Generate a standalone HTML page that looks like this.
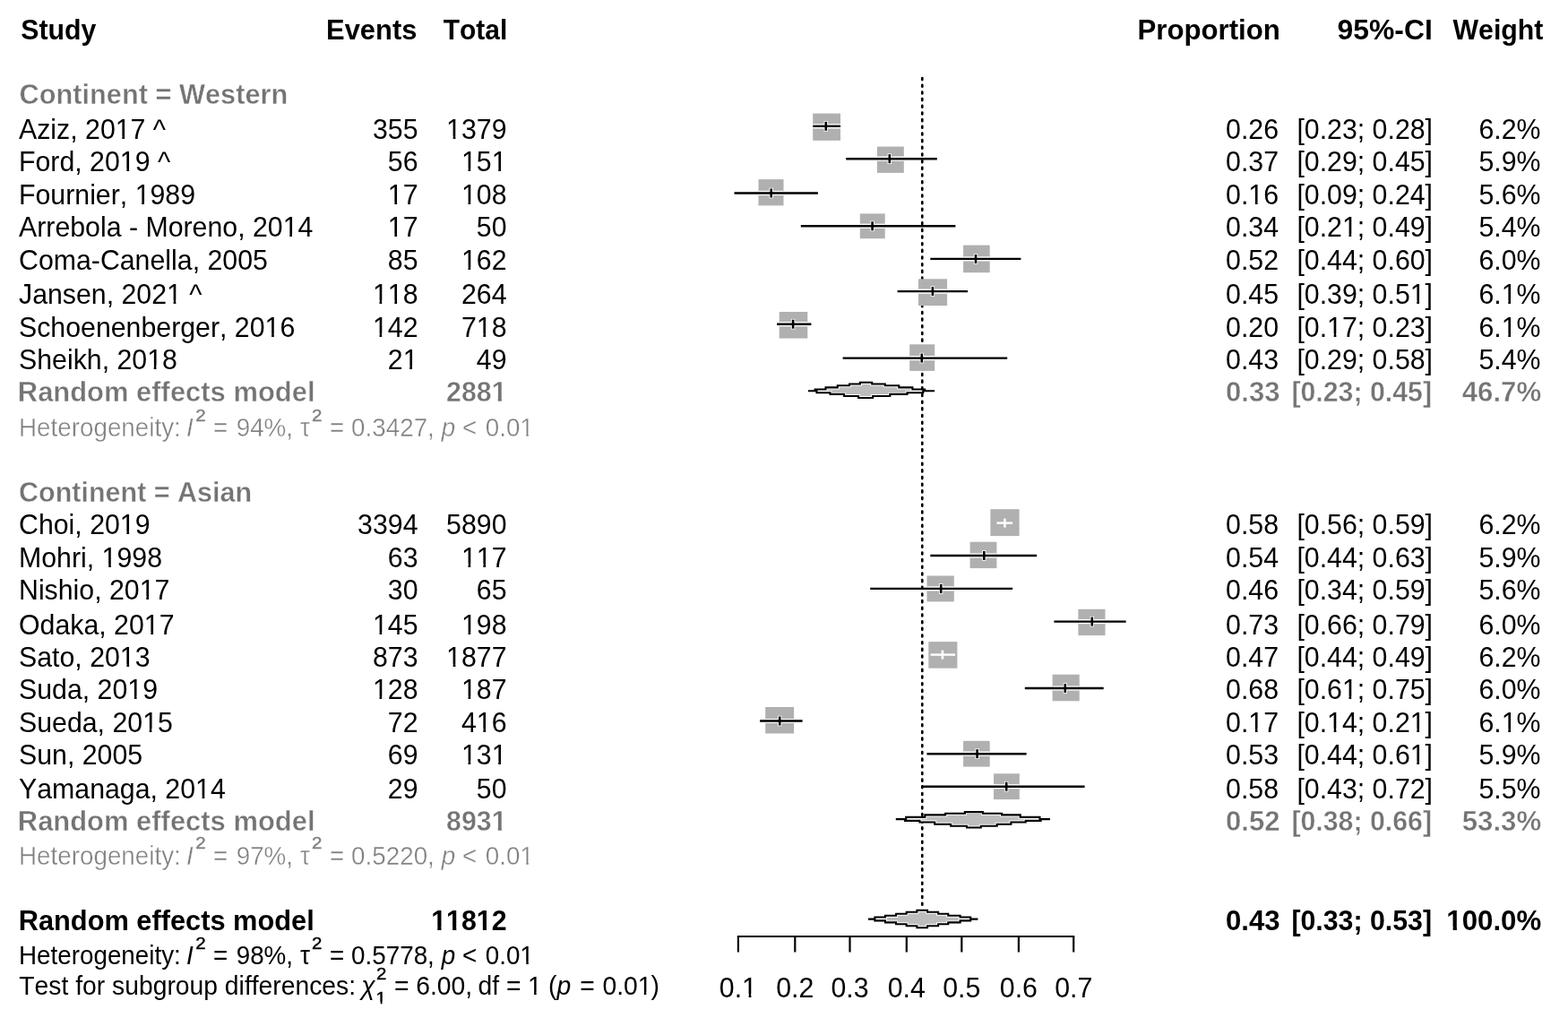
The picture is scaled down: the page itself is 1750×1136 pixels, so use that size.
<!DOCTYPE html>
<html><head><meta charset="utf-8"><title>Forest plot</title>
<style>
html,body{margin:0;padding:0;background:#fff;}
body{width:1750px;height:1136px;overflow:hidden;}
svg{display:block;font-family:"Liberation Sans",Arial,sans-serif;font-size:30.3px;font-kerning:none;font-variant-ligatures:none;font-feature-settings:"kern" 0,"liga" 0;}
</style></head><body>
<svg width="1750" height="1136" viewBox="0 0 1750 1136">
<rect width="1750" height="1136" fill="#fff"/>
<line x1="1029.3" y1="87.1" x2="1029.3" y2="1009.9" stroke="#000" stroke-width="2.6" stroke-linecap="round" stroke-dasharray="2.0 5.672"/>
<text transform="translate(23.2 44.3) scale(1.0 1.04)" font-weight="bold">Study</text>
<text transform="translate(465.4 44.3) scale(1.02 1.04)" text-anchor="end" font-weight="bold">Events</text>
<text transform="translate(566.3 44.3) scale(0.99 1.04)" text-anchor="end" font-weight="bold">Total</text>
<text transform="translate(1428.8 44.3) scale(1.029 1.04)" text-anchor="end" font-weight="bold">Proportion</text>
<text transform="translate(1598.8 44.3) scale(1.052 1.04)" text-anchor="end" font-weight="bold">95%-CI</text>
<text transform="translate(1722.4 44.3) scale(1.0 1.04)" text-anchor="end" font-weight="bold">Weight</text>
<text transform="translate(21.5 116.3) scale(1.015 1.04)" font-weight="bold" fill="#747474" stroke="#fff" stroke-width="0.4">Continent = Western</text>
<text transform="translate(21.0 155.2) scale(1.0 1.04)">Aziz, 2017 ^</text>
<text transform="translate(466.5 155.2) scale(1.0 1.04)" text-anchor="end">355</text>
<text transform="translate(565.5 155.2) scale(1.0 1.04)" text-anchor="end">1379</text>
<text transform="translate(1427.0 155.2) scale(1.0 1.04)" text-anchor="end">0.26</text>
<text transform="translate(1599.0 155.2) scale(1.0 1.04)" text-anchor="end">[0.23; 0.28]</text>
<text transform="translate(1719.5 155.2) scale(1.0 1.04)" text-anchor="end">6.2%</text>
<rect x="907.2" y="126.6" width="30.8" height="30.2" fill="#b0b0b0"/>
<line x1="907.4" y1="140.8" x2="938.0" y2="140.8" stroke="#fff" stroke-width="5.2"/>
<line x1="921.8" y1="135.0" x2="921.8" y2="146.6" stroke="#fff" stroke-width="4.4"/>
<line x1="907.4" y1="140.8" x2="938.0" y2="140.8" stroke="#000" stroke-width="2.4"/>
<line x1="921.8" y1="135.8" x2="921.8" y2="145.8" stroke="#000" stroke-width="2.6"/>
<text transform="translate(21.0 191.3) scale(1.0 1.04)">Ford, 2019 ^</text>
<text transform="translate(466.5 191.3) scale(1.0 1.04)" text-anchor="end">56</text>
<text transform="translate(565.5 191.3) scale(1.0 1.04)" text-anchor="end">151</text>
<text transform="translate(1427.0 191.3) scale(1.0 1.04)" text-anchor="end">0.37</text>
<text transform="translate(1599.0 191.3) scale(1.0 1.04)" text-anchor="end">[0.29; 0.45]</text>
<text transform="translate(1719.5 191.3) scale(1.0 1.04)" text-anchor="end">5.9%</text>
<rect x="978.9" y="163.6" width="29.9" height="29.3" fill="#b0b0b0"/>
<line x1="978.9" y1="177.2" x2="1008.8" y2="177.2" stroke="#fff" stroke-width="5.2"/>
<line x1="992.8" y1="171.4" x2="992.8" y2="183.0" stroke="#fff" stroke-width="4.4"/>
<line x1="944.2" y1="177.2" x2="1045.8" y2="177.2" stroke="#000" stroke-width="2.4"/>
<line x1="992.8" y1="172.2" x2="992.8" y2="182.2" stroke="#000" stroke-width="2.6"/>
<text transform="translate(21.0 227.8) scale(1.0 1.04)">Fournier, 1989</text>
<text transform="translate(466.5 227.8) scale(1.0 1.04)" text-anchor="end">17</text>
<text transform="translate(565.5 227.8) scale(1.0 1.04)" text-anchor="end">108</text>
<text transform="translate(1427.0 227.8) scale(1.0 1.04)" text-anchor="end">0.16</text>
<text transform="translate(1599.0 227.8) scale(1.0 1.04)" text-anchor="end">[0.09; 0.24]</text>
<text transform="translate(1719.5 227.8) scale(1.0 1.04)" text-anchor="end">5.6%</text>
<rect x="846.5" y="200.1" width="28.0" height="29.3" fill="#b0b0b0"/>
<line x1="846.5" y1="215.5" x2="874.5" y2="215.5" stroke="#fff" stroke-width="5.2"/>
<line x1="860.7" y1="209.7" x2="860.7" y2="221.3" stroke="#fff" stroke-width="4.4"/>
<line x1="819.5" y1="215.5" x2="912.9" y2="215.5" stroke="#000" stroke-width="2.4"/>
<line x1="860.7" y1="210.5" x2="860.7" y2="220.5" stroke="#000" stroke-width="2.6"/>
<text transform="translate(21.0 264.2) scale(1.0 1.04)">Arrebola - Moreno, 2014</text>
<text transform="translate(466.5 264.2) scale(1.0 1.04)" text-anchor="end">17</text>
<text transform="translate(565.5 264.2) scale(1.0 1.04)" text-anchor="end">50</text>
<text transform="translate(1427.0 264.2) scale(1.0 1.04)" text-anchor="end">0.34</text>
<text transform="translate(1599.0 264.2) scale(1.0 1.04)" text-anchor="end">[0.21; 0.49]</text>
<text transform="translate(1719.5 264.2) scale(1.0 1.04)" text-anchor="end">5.4%</text>
<rect x="959.8" y="238.4" width="27.9" height="27.8" fill="#b0b0b0"/>
<line x1="959.8" y1="252.3" x2="987.7" y2="252.3" stroke="#fff" stroke-width="5.2"/>
<line x1="973.6" y1="246.5" x2="973.6" y2="258.1" stroke="#fff" stroke-width="4.4"/>
<line x1="893.8" y1="252.3" x2="1066.4" y2="252.3" stroke="#000" stroke-width="2.4"/>
<line x1="973.6" y1="247.3" x2="973.6" y2="257.3" stroke="#000" stroke-width="2.6"/>
<text transform="translate(21.0 301.3) scale(1.0 1.04)">Coma-Canella, 2005</text>
<text transform="translate(466.5 301.3) scale(1.0 1.04)" text-anchor="end">85</text>
<text transform="translate(565.5 301.3) scale(1.0 1.04)" text-anchor="end">162</text>
<text transform="translate(1427.0 301.3) scale(1.0 1.04)" text-anchor="end">0.52</text>
<text transform="translate(1599.0 301.3) scale(1.0 1.04)" text-anchor="end">[0.44; 0.60]</text>
<text transform="translate(1719.5 301.3) scale(1.0 1.04)" text-anchor="end">6.0%</text>
<rect x="1075.1" y="273.6" width="29.6" height="30.6" fill="#b0b0b0"/>
<line x1="1075.1" y1="288.9" x2="1104.7" y2="288.9" stroke="#fff" stroke-width="5.2"/>
<line x1="1089.0" y1="283.1" x2="1089.0" y2="294.7" stroke="#fff" stroke-width="4.4"/>
<line x1="1038.3" y1="288.9" x2="1139.4" y2="288.9" stroke="#000" stroke-width="2.4"/>
<line x1="1089.0" y1="283.9" x2="1089.0" y2="293.9" stroke="#000" stroke-width="2.6"/>
<text transform="translate(21.0 338.7) scale(1.0 1.04)">Jansen, 2021 ^</text>
<text transform="translate(466.5 338.7) scale(1.0 1.04)" text-anchor="end">118</text>
<text transform="translate(565.5 338.7) scale(1.0 1.04)" text-anchor="end">264</text>
<text transform="translate(1427.0 338.7) scale(1.0 1.04)" text-anchor="end">0.45</text>
<text transform="translate(1599.0 338.7) scale(1.0 1.04)" text-anchor="end">[0.39; 0.51]</text>
<text transform="translate(1719.5 338.7) scale(1.0 1.04)" text-anchor="end">6.1%</text>
<rect x="1025.0" y="311.3" width="32.1" height="29.8" fill="#b0b0b0"/>
<line x1="1025.0" y1="325.1" x2="1057.1" y2="325.1" stroke="#fff" stroke-width="5.2"/>
<line x1="1040.9" y1="319.3" x2="1040.9" y2="330.9" stroke="#fff" stroke-width="4.4"/>
<line x1="1001.6" y1="325.1" x2="1080.0" y2="325.1" stroke="#000" stroke-width="2.4"/>
<line x1="1040.9" y1="320.1" x2="1040.9" y2="330.1" stroke="#000" stroke-width="2.6"/>
<text transform="translate(21.0 375.6) scale(1.0 1.04)">Schoenenberger, 2016</text>
<text transform="translate(466.5 375.6) scale(1.0 1.04)" text-anchor="end">142</text>
<text transform="translate(565.5 375.6) scale(1.0 1.04)" text-anchor="end">718</text>
<text transform="translate(1427.0 375.6) scale(1.0 1.04)" text-anchor="end">0.20</text>
<text transform="translate(1599.0 375.6) scale(1.0 1.04)" text-anchor="end">[0.17; 0.23]</text>
<text transform="translate(1719.5 375.6) scale(1.0 1.04)" text-anchor="end">6.1%</text>
<rect x="869.7" y="348.0" width="31.6" height="29.6" fill="#b0b0b0"/>
<line x1="869.7" y1="361.7" x2="901.3" y2="361.7" stroke="#fff" stroke-width="5.2"/>
<line x1="885.1" y1="355.9" x2="885.1" y2="367.5" stroke="#fff" stroke-width="4.4"/>
<line x1="867.1" y1="361.7" x2="905.4" y2="361.7" stroke="#000" stroke-width="2.4"/>
<line x1="885.1" y1="356.7" x2="885.1" y2="366.7" stroke="#000" stroke-width="2.6"/>
<text transform="translate(21.0 411.7) scale(1.0 1.04)">Sheikh, 2018</text>
<text transform="translate(466.5 411.7) scale(1.0 1.04)" text-anchor="end">21</text>
<text transform="translate(565.5 411.7) scale(1.0 1.04)" text-anchor="end">49</text>
<text transform="translate(1427.0 411.7) scale(1.0 1.04)" text-anchor="end">0.43</text>
<text transform="translate(1599.0 411.7) scale(1.0 1.04)" text-anchor="end">[0.29; 0.58]</text>
<text transform="translate(1719.5 411.7) scale(1.0 1.04)" text-anchor="end">5.4%</text>
<rect x="1015.2" y="384.3" width="28.0" height="29.6" fill="#b0b0b0"/>
<line x1="1015.2" y1="399.6" x2="1043.2" y2="399.6" stroke="#fff" stroke-width="5.2"/>
<line x1="1028.8" y1="393.8" x2="1028.8" y2="405.4" stroke="#fff" stroke-width="4.4"/>
<line x1="940.6" y1="399.6" x2="1124.2" y2="399.6" stroke="#000" stroke-width="2.4"/>
<line x1="1028.8" y1="394.6" x2="1028.8" y2="404.6" stroke="#000" stroke-width="2.6"/>
<text transform="translate(19.8 447.8) scale(1.021 1.04)" font-weight="bold" fill="#747474" stroke="#fff" stroke-width="0.4">Random effects model</text>
<text transform="translate(565.5 447.8) scale(1.0 1.04)" text-anchor="end" font-weight="bold" fill="#747474" stroke="#fff" stroke-width="0.4">2881</text>
<text transform="translate(1428.5 447.8) scale(1.027 1.04)" text-anchor="end" font-weight="bold" fill="#747474" stroke="#fff" stroke-width="0.4">0.33</text>
<text transform="translate(1598.0 447.8) scale(1.0 1.04)" text-anchor="end" font-weight="bold" fill="#747474" stroke="#fff" stroke-width="0.4">[0.23; 0.45]</text>
<text transform="translate(1720.2 447.8) scale(1.03 1.04)" text-anchor="end" font-weight="bold" fill="#747474" stroke="#fff" stroke-width="0.4">46.7%</text>
<clipPath id="dc1"><path d="M901.9,436.3H909.6V434.5H921.5V432.4H934.8V430.3H948.0V428.5H959.9V426.7H973.2V428.5H987.8V430.3H1003.3V432.4H1018.4V434.5H1032.1V436.3H1043.1V436.3H1030.3V438.3H1012.5V439.9H993.3V442.0H974.1V444.0H958.1V442.0H942.1V439.9H926.5V438.3H911.5V436.3H901.9Z"/></clipPath>
<path d="M901.9,436.3H909.6V434.5H921.5V432.4H934.8V430.3H948.0V428.5H959.9V426.7H973.2V428.5H987.8V430.3H1003.3V432.4H1018.4V434.5H1032.1V436.3H1043.1V436.3H1030.3V438.3H1012.5V439.9H993.3V442.0H974.1V444.0H958.1V442.0H942.1V439.9H926.5V438.3H911.5V436.3H901.9Z" fill="#bdbdbd" stroke="#fff" stroke-width="4.0" clip-path="url(#dc1)"/>
<path d="M901.9,436.3H909.6V434.5H921.5V432.4H934.8V430.3H948.0V428.5H959.9V426.7H973.2V428.5H987.8V430.3H1003.3V432.4H1018.4V434.5H1032.1V436.3H1043.1V436.3H1030.3V438.3H1012.5V439.9H993.3V442.0H974.1V444.0H958.1V442.0H942.1V439.9H926.5V438.3H911.5V436.3H901.9Z" fill="none" stroke="#000" stroke-width="2.1" stroke-linejoin="miter"/>
<text transform="translate(21.0 486.9) scale(1.0 1.04)" fill="#808080" font-size="27.8" stroke="#fff" stroke-width="0.35">Heterogeneity:</text>
<text transform="translate(208.1 486.9) scale(1.0 1.04)" font-style="italic" fill="#808080" font-size="27.8" stroke="#fff" stroke-width="0.35">I</text>
<text transform="translate(218.3 469.6) scale(1.0 0.88)" fill="#808080" font-size="20.5" stroke="#808080" stroke-width="0.45">2</text>
<text transform="translate(238.1 486.9) scale(1.0 1.04)" fill="#808080" font-size="27.8" stroke="#fff" stroke-width="0.35">=</text>
<text transform="translate(263.7 486.9) scale(1.0 1.04)" fill="#808080" font-size="27.8" stroke="#fff" stroke-width="0.35">94%,</text>
<text transform="translate(335.1 486.9) scale(1.0 1.04)" fill="#808080" font-size="27.8" stroke="#fff" stroke-width="0.35">τ</text>
<text transform="translate(348.0 469.6) scale(1.0 0.88)" fill="#808080" font-size="20.5" stroke="#808080" stroke-width="0.45">2</text>
<text transform="translate(368.1 486.9) scale(1.0 1.04)" fill="#808080" font-size="27.8" stroke="#fff" stroke-width="0.35">=</text>
<text transform="translate(392.1 486.9) scale(1.0 1.04)" fill="#808080" font-size="27.8" stroke="#fff" stroke-width="0.35">0.3427,</text>
<text transform="translate(492.8 486.9) scale(1.0 1.04)" font-style="italic" fill="#808080" font-size="27.8" stroke="#fff" stroke-width="0.35">p</text>
<text transform="translate(515.9 486.9) scale(1.0 1.04)" fill="#808080" font-size="27.8" stroke="#fff" stroke-width="0.35">&lt;</text>
<text transform="translate(541.7 486.9) scale(1.0 1.04)" fill="#808080" font-size="27.8" stroke="#fff" stroke-width="0.35">0.01</text>
<text transform="translate(21.0 559.7) scale(1.007 1.04)" font-weight="bold" fill="#747474" stroke="#fff" stroke-width="0.4">Continent = Asian</text>
<text transform="translate(21.0 596.1) scale(1.0 1.04)">Choi, 2019</text>
<text transform="translate(466.5 596.1) scale(1.0 1.04)" text-anchor="end">3394</text>
<text transform="translate(565.5 596.1) scale(1.0 1.04)" text-anchor="end">5890</text>
<text transform="translate(1427.0 596.1) scale(1.0 1.04)" text-anchor="end">0.58</text>
<text transform="translate(1599.0 596.1) scale(1.0 1.04)" text-anchor="end">[0.56; 0.59]</text>
<text transform="translate(1719.5 596.1) scale(1.0 1.04)" text-anchor="end">6.2%</text>
<rect x="1105.4" y="568.2" width="32.2" height="29.9" fill="#b0b0b0"/>
<line x1="1112.4" y1="583.6" x2="1130.1" y2="583.6" stroke="#fff" stroke-width="2.4"/>
<line x1="1121.4" y1="578.6" x2="1121.4" y2="588.6" stroke="#fff" stroke-width="2.6"/>
<text transform="translate(21.0 632.5) scale(1.0 1.04)">Mohri, 1998</text>
<text transform="translate(466.5 632.5) scale(1.0 1.04)" text-anchor="end">63</text>
<text transform="translate(565.5 632.5) scale(1.0 1.04)" text-anchor="end">117</text>
<text transform="translate(1427.0 632.5) scale(1.0 1.04)" text-anchor="end">0.54</text>
<text transform="translate(1599.0 632.5) scale(1.0 1.04)" text-anchor="end">[0.44; 0.63]</text>
<text transform="translate(1719.5 632.5) scale(1.0 1.04)" text-anchor="end">5.9%</text>
<rect x="1082.6" y="604.7" width="29.8" height="29.4" fill="#b0b0b0"/>
<line x1="1082.6" y1="620.0" x2="1112.4" y2="620.0" stroke="#fff" stroke-width="5.2"/>
<line x1="1098.3" y1="614.2" x2="1098.3" y2="625.8" stroke="#fff" stroke-width="4.4"/>
<line x1="1038.3" y1="620.0" x2="1157.1" y2="620.0" stroke="#000" stroke-width="2.4"/>
<line x1="1098.3" y1="615.0" x2="1098.3" y2="625.0" stroke="#000" stroke-width="2.6"/>
<text transform="translate(21.0 668.6) scale(1.0 1.04)">Nishio, 2017</text>
<text transform="translate(466.5 668.6) scale(1.0 1.04)" text-anchor="end">30</text>
<text transform="translate(565.5 668.6) scale(1.0 1.04)" text-anchor="end">65</text>
<text transform="translate(1427.0 668.6) scale(1.0 1.04)" text-anchor="end">0.46</text>
<text transform="translate(1599.0 668.6) scale(1.0 1.04)" text-anchor="end">[0.34; 0.59]</text>
<text transform="translate(1719.5 668.6) scale(1.0 1.04)" text-anchor="end">5.6%</text>
<rect x="1034.5" y="642.5" width="30.3" height="28.9" fill="#b0b0b0"/>
<line x1="1034.5" y1="656.9" x2="1064.8" y2="656.9" stroke="#fff" stroke-width="5.2"/>
<line x1="1050.2" y1="651.1" x2="1050.2" y2="662.7" stroke="#fff" stroke-width="4.4"/>
<line x1="971.2" y1="656.9" x2="1130.1" y2="656.9" stroke="#000" stroke-width="2.4"/>
<line x1="1050.2" y1="651.9" x2="1050.2" y2="661.9" stroke="#000" stroke-width="2.6"/>
<text transform="translate(21.0 707.9) scale(1.0 1.04)">Odaka, 2017</text>
<text transform="translate(466.5 707.9) scale(1.0 1.04)" text-anchor="end">145</text>
<text transform="translate(565.5 707.9) scale(1.0 1.04)" text-anchor="end">198</text>
<text transform="translate(1427.0 707.9) scale(1.0 1.04)" text-anchor="end">0.73</text>
<text transform="translate(1599.0 707.9) scale(1.0 1.04)" text-anchor="end">[0.66; 0.79]</text>
<text transform="translate(1719.5 707.9) scale(1.0 1.04)" text-anchor="end">6.0%</text>
<rect x="1203.4" y="679.8" width="30.1" height="29.3" fill="#b0b0b0"/>
<line x1="1203.4" y1="693.6" x2="1233.5" y2="693.6" stroke="#fff" stroke-width="5.2"/>
<line x1="1218.8" y1="687.8" x2="1218.8" y2="699.4" stroke="#fff" stroke-width="4.4"/>
<line x1="1176.4" y1="693.6" x2="1256.6" y2="693.6" stroke="#000" stroke-width="2.4"/>
<line x1="1218.8" y1="688.6" x2="1218.8" y2="698.6" stroke="#000" stroke-width="2.6"/>
<text transform="translate(21.0 744.0) scale(1.0 1.04)">Sato, 2013</text>
<text transform="translate(466.5 744.0) scale(1.0 1.04)" text-anchor="end">873</text>
<text transform="translate(565.5 744.0) scale(1.0 1.04)" text-anchor="end">1877</text>
<text transform="translate(1427.0 744.0) scale(1.0 1.04)" text-anchor="end">0.47</text>
<text transform="translate(1599.0 744.0) scale(1.0 1.04)" text-anchor="end">[0.44; 0.49]</text>
<text transform="translate(1719.5 744.0) scale(1.0 1.04)" text-anchor="end">6.2%</text>
<rect x="1036.3" y="716.1" width="32.1" height="29.6" fill="#b0b0b0"/>
<line x1="1038.6" y1="730.6" x2="1066.1" y2="730.6" stroke="#fff" stroke-width="2.4"/>
<line x1="1051.9" y1="725.6" x2="1051.9" y2="735.6" stroke="#fff" stroke-width="2.6"/>
<text transform="translate(21.0 780.1) scale(1.0 1.04)">Suda, 2019</text>
<text transform="translate(466.5 780.1) scale(1.0 1.04)" text-anchor="end">128</text>
<text transform="translate(565.5 780.1) scale(1.0 1.04)" text-anchor="end">187</text>
<text transform="translate(1427.0 780.1) scale(1.0 1.04)" text-anchor="end">0.68</text>
<text transform="translate(1599.0 780.1) scale(1.0 1.04)" text-anchor="end">[0.61; 0.75]</text>
<text transform="translate(1719.5 780.1) scale(1.0 1.04)" text-anchor="end">6.0%</text>
<rect x="1174.6" y="752.7" width="30.1" height="29.6" fill="#b0b0b0"/>
<line x1="1174.6" y1="768.0" x2="1204.7" y2="768.0" stroke="#fff" stroke-width="5.2"/>
<line x1="1188.8" y1="762.2" x2="1188.8" y2="773.8" stroke="#fff" stroke-width="4.4"/>
<line x1="1143.8" y1="768.0" x2="1231.7" y2="768.0" stroke="#000" stroke-width="2.4"/>
<line x1="1188.8" y1="763.0" x2="1188.8" y2="773.0" stroke="#000" stroke-width="2.6"/>
<text transform="translate(21.0 816.6) scale(1.0 1.04)">Sueda, 2015</text>
<text transform="translate(466.5 816.6) scale(1.0 1.04)" text-anchor="end">72</text>
<text transform="translate(565.5 816.6) scale(1.0 1.04)" text-anchor="end">416</text>
<text transform="translate(1427.0 816.6) scale(1.0 1.04)" text-anchor="end">0.17</text>
<text transform="translate(1599.0 816.6) scale(1.0 1.04)" text-anchor="end">[0.14; 0.21]</text>
<text transform="translate(1719.5 816.6) scale(1.0 1.04)" text-anchor="end">6.1%</text>
<rect x="854.2" y="789.0" width="31.9" height="29.5" fill="#b0b0b0"/>
<line x1="854.2" y1="804.5" x2="886.1" y2="804.5" stroke="#fff" stroke-width="5.2"/>
<line x1="870.2" y1="798.7" x2="870.2" y2="810.3" stroke="#fff" stroke-width="4.4"/>
<line x1="848.1" y1="804.5" x2="895.6" y2="804.5" stroke="#000" stroke-width="2.4"/>
<line x1="870.2" y1="799.5" x2="870.2" y2="809.5" stroke="#000" stroke-width="2.6"/>
<text transform="translate(21.0 852.7) scale(1.0 1.04)">Sun, 2005</text>
<text transform="translate(466.5 852.7) scale(1.0 1.04)" text-anchor="end">69</text>
<text transform="translate(565.5 852.7) scale(1.0 1.04)" text-anchor="end">131</text>
<text transform="translate(1427.0 852.7) scale(1.0 1.04)" text-anchor="end">0.53</text>
<text transform="translate(1599.0 852.7) scale(1.0 1.04)" text-anchor="end">[0.44; 0.61]</text>
<text transform="translate(1719.5 852.7) scale(1.0 1.04)" text-anchor="end">5.9%</text>
<rect x="1075.1" y="826.8" width="29.6" height="28.8" fill="#b0b0b0"/>
<line x1="1075.1" y1="841.2" x2="1104.7" y2="841.2" stroke="#fff" stroke-width="5.2"/>
<line x1="1090.6" y1="835.4" x2="1090.6" y2="847.0" stroke="#fff" stroke-width="4.4"/>
<line x1="1034.5" y1="841.2" x2="1145.6" y2="841.2" stroke="#000" stroke-width="2.4"/>
<line x1="1090.6" y1="836.2" x2="1090.6" y2="846.2" stroke="#000" stroke-width="2.6"/>
<text transform="translate(21.0 891.4) scale(1.0 1.04)">Yamanaga, 2014</text>
<text transform="translate(466.5 891.4) scale(1.0 1.04)" text-anchor="end">29</text>
<text transform="translate(565.5 891.4) scale(1.0 1.04)" text-anchor="end">50</text>
<text transform="translate(1427.0 891.4) scale(1.0 1.04)" text-anchor="end">0.58</text>
<text transform="translate(1599.0 891.4) scale(1.0 1.04)" text-anchor="end">[0.43; 0.72]</text>
<text transform="translate(1719.5 891.4) scale(1.0 1.04)" text-anchor="end">5.5%</text>
<rect x="1109.0" y="863.3" width="28.8" height="28.8" fill="#b0b0b0"/>
<line x1="1109.0" y1="877.7" x2="1137.8" y2="877.7" stroke="#fff" stroke-width="5.2"/>
<line x1="1123.2" y1="871.9" x2="1123.2" y2="883.5" stroke="#fff" stroke-width="4.4"/>
<line x1="1029.3" y1="877.7" x2="1210.6" y2="877.7" stroke="#000" stroke-width="2.4"/>
<line x1="1123.2" y1="872.7" x2="1123.2" y2="882.7" stroke="#000" stroke-width="2.6"/>
<text transform="translate(19.8 926.6) scale(1.021 1.04)" font-weight="bold" fill="#747474" stroke="#fff" stroke-width="0.4">Random effects model</text>
<text transform="translate(565.5 926.6) scale(1.0 1.04)" text-anchor="end" font-weight="bold" fill="#747474" stroke="#fff" stroke-width="0.4">8931</text>
<text transform="translate(1428.5 926.6) scale(1.027 1.04)" text-anchor="end" font-weight="bold" fill="#747474" stroke="#fff" stroke-width="0.4">0.52</text>
<text transform="translate(1598.0 926.6) scale(1.0 1.04)" text-anchor="end" font-weight="bold" fill="#747474" stroke="#fff" stroke-width="0.4">[0.38; 0.66]</text>
<text transform="translate(1720.2 926.6) scale(1.03 1.04)" text-anchor="end" font-weight="bold" fill="#747474" stroke="#fff" stroke-width="0.4">53.3%</text>
<clipPath id="dc2"><path d="M999.8,914.1H1011.2V911.9H1032.3V909.4H1055.1V907.8H1076.9V906.1H1096.9V907.8H1118.1V909.4H1138.7V911.9H1160.5V914.1H1171.9V914.1H1161.6V915.9H1144.7V917.5H1128.4V919.7H1112.7V921.7H1094.8V923.5H1079.0V921.7H1061.1V919.7H1043.2V917.5H1026.4V915.9H1010.0V914.1H999.8Z"/></clipPath>
<path d="M999.8,914.1H1011.2V911.9H1032.3V909.4H1055.1V907.8H1076.9V906.1H1096.9V907.8H1118.1V909.4H1138.7V911.9H1160.5V914.1H1171.9V914.1H1161.6V915.9H1144.7V917.5H1128.4V919.7H1112.7V921.7H1094.8V923.5H1079.0V921.7H1061.1V919.7H1043.2V917.5H1026.4V915.9H1010.0V914.1H999.8Z" fill="#bdbdbd" stroke="#fff" stroke-width="4.0" clip-path="url(#dc2)"/>
<path d="M999.8,914.1H1011.2V911.9H1032.3V909.4H1055.1V907.8H1076.9V906.1H1096.9V907.8H1118.1V909.4H1138.7V911.9H1160.5V914.1H1171.9V914.1H1161.6V915.9H1144.7V917.5H1128.4V919.7H1112.7V921.7H1094.8V923.5H1079.0V921.7H1061.1V919.7H1043.2V917.5H1026.4V915.9H1010.0V914.1H999.8Z" fill="none" stroke="#000" stroke-width="2.1" stroke-linejoin="miter"/>
<text transform="translate(21.0 964.7) scale(1.0 1.04)" fill="#808080" font-size="27.8" stroke="#fff" stroke-width="0.35">Heterogeneity:</text>
<text transform="translate(208.1 964.7) scale(1.0 1.04)" font-style="italic" fill="#808080" font-size="27.8" stroke="#fff" stroke-width="0.35">I</text>
<text transform="translate(218.3 947.4) scale(1.0 0.88)" fill="#808080" font-size="20.5" stroke="#808080" stroke-width="0.45">2</text>
<text transform="translate(238.1 964.7) scale(1.0 1.04)" fill="#808080" font-size="27.8" stroke="#fff" stroke-width="0.35">=</text>
<text transform="translate(263.7 964.7) scale(1.0 1.04)" fill="#808080" font-size="27.8" stroke="#fff" stroke-width="0.35">97%,</text>
<text transform="translate(335.1 964.7) scale(1.0 1.04)" fill="#808080" font-size="27.8" stroke="#fff" stroke-width="0.35">τ</text>
<text transform="translate(348.0 947.4) scale(1.0 0.88)" fill="#808080" font-size="20.5" stroke="#808080" stroke-width="0.45">2</text>
<text transform="translate(368.1 964.7) scale(1.0 1.04)" fill="#808080" font-size="27.8" stroke="#fff" stroke-width="0.35">=</text>
<text transform="translate(392.1 964.7) scale(1.0 1.04)" fill="#808080" font-size="27.8" stroke="#fff" stroke-width="0.35">0.5220,</text>
<text transform="translate(492.8 964.7) scale(1.0 1.04)" font-style="italic" fill="#808080" font-size="27.8" stroke="#fff" stroke-width="0.35">p</text>
<text transform="translate(515.9 964.7) scale(1.0 1.04)" fill="#808080" font-size="27.8" stroke="#fff" stroke-width="0.35">&lt;</text>
<text transform="translate(541.7 964.7) scale(1.0 1.04)" fill="#808080" font-size="27.8" stroke="#fff" stroke-width="0.35">0.01</text>
<text transform="translate(20.7 1037.9) scale(1.016 1.04)" font-weight="bold">Random effects model</text>
<text transform="translate(565.5 1037.9) scale(1.0 1.04)" text-anchor="end" font-weight="bold">11812</text>
<text transform="translate(1428.5 1037.9) scale(1.027 1.04)" text-anchor="end" font-weight="bold">0.43</text>
<text transform="translate(1598.0 1037.9) scale(1.0 1.04)" text-anchor="end" font-weight="bold">[0.33; 0.53]</text>
<text transform="translate(1720.2 1037.9) scale(1.03 1.04)" text-anchor="end" font-weight="bold">100.0%</text>
<clipPath id="dc3"><path d="M969.0,1025.6H976.4V1023.5H988.0V1021.8H1000.1V1019.7H1011.7V1017.7H1023.4V1015.8H1035.0V1017.7H1047.1V1019.7H1058.3V1021.8H1071.6V1023.5H1083.2V1025.6H1091.4V1025.6H1083.2V1027.4H1071.6V1029.4H1058.3V1031.3H1047.1V1033.3H1035.0V1035.2H1023.4V1033.3H1011.7V1031.3H1000.1V1029.4H988.0V1027.4H976.4V1025.6H969.0Z"/></clipPath>
<path d="M969.0,1025.6H976.4V1023.5H988.0V1021.8H1000.1V1019.7H1011.7V1017.7H1023.4V1015.8H1035.0V1017.7H1047.1V1019.7H1058.3V1021.8H1071.6V1023.5H1083.2V1025.6H1091.4V1025.6H1083.2V1027.4H1071.6V1029.4H1058.3V1031.3H1047.1V1033.3H1035.0V1035.2H1023.4V1033.3H1011.7V1031.3H1000.1V1029.4H988.0V1027.4H976.4V1025.6H969.0Z" fill="#bdbdbd" stroke="#fff" stroke-width="4.0" clip-path="url(#dc3)"/>
<path d="M969.0,1025.6H976.4V1023.5H988.0V1021.8H1000.1V1019.7H1011.7V1017.7H1023.4V1015.8H1035.0V1017.7H1047.1V1019.7H1058.3V1021.8H1071.6V1023.5H1083.2V1025.6H1091.4V1025.6H1083.2V1027.4H1071.6V1029.4H1058.3V1031.3H1047.1V1033.3H1035.0V1035.2H1023.4V1033.3H1011.7V1031.3H1000.1V1029.4H988.0V1027.4H976.4V1025.6H969.0Z" fill="none" stroke="#000" stroke-width="2.1" stroke-linejoin="miter"/>
<text transform="translate(21.0 1075.9) scale(1.0 1.04)" font-size="27.8">Heterogeneity:</text>
<text transform="translate(208.1 1075.9) scale(1.0 1.04)" font-style="italic" font-size="27.8">I</text>
<text transform="translate(218.3 1058.6) scale(1.0 0.88)" font-size="20.5" stroke="#000" stroke-width="0.45">2</text>
<text transform="translate(238.1 1075.9) scale(1.0 1.04)" font-size="27.8">=</text>
<text transform="translate(263.7 1075.9) scale(1.0 1.04)" font-size="27.8">98%,</text>
<text transform="translate(335.1 1075.9) scale(1.0 1.04)" font-size="27.8">τ</text>
<text transform="translate(348.0 1058.6) scale(1.0 0.88)" font-size="20.5" stroke="#000" stroke-width="0.45">2</text>
<text transform="translate(368.1 1075.9) scale(1.0 1.04)" font-size="27.8">=</text>
<text transform="translate(392.1 1075.9) scale(1.0 1.04)" font-size="27.8">0.5778,</text>
<text transform="translate(492.8 1075.9) scale(1.0 1.04)" font-style="italic" font-size="27.8">p</text>
<text transform="translate(515.9 1075.9) scale(1.0 1.04)" font-size="27.8">&lt;</text>
<text transform="translate(541.7 1075.9) scale(1.0 1.04)" font-size="27.8">0.01</text>
<text transform="translate(21.3 1110.1) scale(1.0 1.04)" font-size="28.3">Test for subgroup differences:</text>
<text transform="translate(403.2 1110.1) scale(1.0 1.04)" font-style="italic" font-size="28.3">χ</text>
<text transform="translate(419.9 1093.4) scale(1.0 0.88)" font-size="20.5" stroke="#000" stroke-width="0.45">2</text>
<text transform="translate(419.6 1120.1) scale(1.0 0.88)" font-size="20.5" stroke="#000" stroke-width="0.45">1</text>
<text transform="translate(439.9 1110.1) scale(1.0 1.04)" font-size="28.3">=</text>
<text transform="translate(464.2 1110.1) scale(1.0 1.04)" font-size="28.3">6.00,</text>
<text transform="translate(533.5 1110.1) scale(1.0 1.04)" font-size="28.3">df</text>
<text transform="translate(565.0 1110.1) scale(1.0 1.04)" font-size="28.3">=</text>
<text transform="translate(589.0 1110.1) scale(1.0 1.04)" font-size="28.3">1</text>
<text transform="translate(612.0 1110.1) scale(1.0 1.04)" font-size="28.3">(</text>
<text transform="translate(621.5 1110.1) scale(1.0 1.04)" font-style="italic" font-size="28.3">p</text>
<text transform="translate(647.2 1110.1) scale(1.0 1.04)" font-size="28.3">=</text>
<text transform="translate(672.4 1110.1) scale(1.0 1.04)" font-size="28.3">0.01</text>
<text transform="translate(726.4 1110.1) scale(1.0 1.04)" font-size="28.3">)</text>
<line x1="822.9" y1="1045" x2="1199.2" y2="1045" stroke="#000" stroke-width="2.2"/>
<line x1="823.9" y1="1045" x2="823.9" y2="1062.5" stroke="#000" stroke-width="2.2"/>
<text transform="translate(823.9 1112.7) scale(1.0 1.04)" text-anchor="middle">0.1</text>
<line x1="887.3" y1="1045" x2="887.3" y2="1062.5" stroke="#000" stroke-width="2.2"/>
<text transform="translate(887.3 1112.7) scale(1.0 1.04)" text-anchor="middle">0.2</text>
<line x1="948.5" y1="1045" x2="948.5" y2="1062.5" stroke="#000" stroke-width="2.2"/>
<text transform="translate(948.5 1112.7) scale(1.0 1.04)" text-anchor="middle">0.3</text>
<line x1="1011.8" y1="1045" x2="1011.8" y2="1062.5" stroke="#000" stroke-width="2.2"/>
<text transform="translate(1011.8 1112.7) scale(1.0 1.04)" text-anchor="middle">0.4</text>
<line x1="1073.3" y1="1045" x2="1073.3" y2="1062.5" stroke="#000" stroke-width="2.2"/>
<text transform="translate(1073.3 1112.7) scale(1.0 1.04)" text-anchor="middle">0.5</text>
<line x1="1136.9" y1="1045" x2="1136.9" y2="1062.5" stroke="#000" stroke-width="2.2"/>
<text transform="translate(1136.9 1112.7) scale(1.0 1.04)" text-anchor="middle">0.6</text>
<line x1="1198.2" y1="1045" x2="1198.2" y2="1062.5" stroke="#000" stroke-width="2.2"/>
<text transform="translate(1198.2 1112.7) scale(1.0 1.04)" text-anchor="middle">0.7</text>
<!--feet-->
<rect x="130" y="152" width="6.34" height="4" fill="#fff"/>
<rect x="139.06" y="152" width="5.94" height="4" fill="#fff"/>
<rect x="499" y="152" width="6.67" height="4" fill="#fff"/>
<rect x="508.40" y="152" width="6.60" height="4" fill="#fff"/>
<rect x="135" y="188" width="6.39" height="4" fill="#fff"/>
<rect x="144.12" y="188" width="5.88" height="4" fill="#fff"/>
<rect x="516" y="188" width="6.52" height="4" fill="#fff"/>
<rect x="525.24" y="188" width="6.76" height="4" fill="#fff"/>
<rect x="550" y="188" width="6.21" height="4" fill="#fff"/>
<rect x="558.94" y="188" width="6.06" height="4" fill="#fff"/>
<rect x="152" y="225" width="6.21" height="4" fill="#fff"/>
<rect x="160.93" y="225" width="6.07" height="4" fill="#fff"/>
<rect x="434" y="225" width="6.37" height="4" fill="#fff"/>
<rect x="443.09" y="225" width="5.91" height="4" fill="#fff"/>
<rect x="516" y="225" width="6.52" height="4" fill="#fff"/>
<rect x="525.24" y="225" width="6.76" height="4" fill="#fff"/>
<rect x="1394" y="225" width="6.87" height="4" fill="#fff"/>
<rect x="1403.59" y="225" width="6.41" height="4" fill="#fff"/>
<rect x="317" y="261" width="6.25" height="4" fill="#fff"/>
<rect x="325.98" y="261" width="6.02" height="4" fill="#fff"/>
<rect x="434" y="261" width="6.37" height="4" fill="#fff"/>
<rect x="443.09" y="261" width="5.91" height="4" fill="#fff"/>
<rect x="1499" y="261" width="6.51" height="4" fill="#fff"/>
<rect x="1508.23" y="261" width="6.77" height="4" fill="#fff"/>
<rect x="516" y="298" width="6.52" height="4" fill="#fff"/>
<rect x="525.24" y="298" width="6.76" height="4" fill="#fff"/>
<rect x="187" y="335" width="6.63" height="5" fill="#fff"/>
<rect x="196.36" y="335" width="6.64" height="5" fill="#fff"/>
<rect x="417" y="335" width="6.52" height="5" fill="#fff"/>
<rect x="426.24" y="335" width="6.76" height="5" fill="#fff"/>
<rect x="434" y="335" width="6.37" height="5" fill="#fff"/>
<rect x="443.09" y="335" width="5.91" height="5" fill="#fff"/>
<rect x="1575" y="335" width="6.30" height="5" fill="#fff"/>
<rect x="1584.03" y="335" width="5.97" height="5" fill="#fff"/>
<rect x="1677" y="335" width="6.27" height="5" fill="#fff"/>
<rect x="1686.00" y="335" width="6.00" height="5" fill="#fff"/>
<rect x="297" y="372" width="6.11" height="5" fill="#fff"/>
<rect x="305.84" y="372" width="6.16" height="5" fill="#fff"/>
<rect x="417" y="372" width="6.52" height="5" fill="#fff"/>
<rect x="426.24" y="372" width="6.76" height="5" fill="#fff"/>
<rect x="533" y="372" width="6.37" height="5" fill="#fff"/>
<rect x="542.09" y="372" width="5.91" height="5" fill="#fff"/>
<rect x="1482" y="372" width="6.66" height="5" fill="#fff"/>
<rect x="1491.39" y="372" width="6.61" height="5" fill="#fff"/>
<rect x="1677" y="372" width="6.27" height="5" fill="#fff"/>
<rect x="1686.00" y="372" width="6.00" height="5" fill="#fff"/>
<rect x="165" y="408" width="6.73" height="5" fill="#fff"/>
<rect x="174.46" y="408" width="6.54" height="5" fill="#fff"/>
<rect x="451" y="408" width="6.21" height="5" fill="#fff"/>
<rect x="459.94" y="408" width="6.06" height="5" fill="#fff"/>
<rect x="549" y="444" width="6.70" height="5" fill="#fff"/>
<rect x="559.85" y="444" width="5.15" height="5" fill="#fff"/>
<rect x="581" y="484" width="6.29" height="4" fill="#fff"/>
<rect x="589.79" y="484" width="6.21" height="4" fill="#fff"/>
<rect x="135" y="593" width="6.41" height="4" fill="#fff"/>
<rect x="144.13" y="593" width="5.87" height="4" fill="#fff"/>
<rect x="115" y="629" width="6.16" height="5" fill="#fff"/>
<rect x="123.89" y="629" width="6.11" height="5" fill="#fff"/>
<rect x="516" y="629" width="6.52" height="5" fill="#fff"/>
<rect x="525.24" y="629" width="6.76" height="5" fill="#fff"/>
<rect x="533" y="629" width="6.37" height="5" fill="#fff"/>
<rect x="542.09" y="629" width="5.91" height="5" fill="#fff"/>
<rect x="157" y="665" width="6.28" height="5" fill="#fff"/>
<rect x="166.00" y="665" width="6.00" height="5" fill="#fff"/>
<rect x="162" y="705" width="6.36" height="4" fill="#fff"/>
<rect x="171.09" y="705" width="5.91" height="4" fill="#fff"/>
<rect x="417" y="705" width="6.52" height="4" fill="#fff"/>
<rect x="426.24" y="705" width="6.76" height="4" fill="#fff"/>
<rect x="516" y="705" width="6.52" height="4" fill="#fff"/>
<rect x="525.24" y="705" width="6.76" height="4" fill="#fff"/>
<rect x="135" y="741" width="6.42" height="4" fill="#fff"/>
<rect x="144.15" y="741" width="6.85" height="4" fill="#fff"/>
<rect x="499" y="741" width="6.67" height="4" fill="#fff"/>
<rect x="508.40" y="741" width="6.60" height="4" fill="#fff"/>
<rect x="143" y="777" width="6.84" height="4" fill="#fff"/>
<rect x="152.57" y="777" width="6.43" height="4" fill="#fff"/>
<rect x="417" y="777" width="6.52" height="4" fill="#fff"/>
<rect x="426.24" y="777" width="6.76" height="4" fill="#fff"/>
<rect x="516" y="777" width="6.52" height="4" fill="#fff"/>
<rect x="525.24" y="777" width="6.76" height="4" fill="#fff"/>
<rect x="1499" y="777" width="6.51" height="4" fill="#fff"/>
<rect x="1508.23" y="777" width="6.77" height="4" fill="#fff"/>
<rect x="160" y="813" width="6.69" height="5" fill="#fff"/>
<rect x="169.42" y="813" width="6.58" height="5" fill="#fff"/>
<rect x="533" y="813" width="6.37" height="5" fill="#fff"/>
<rect x="542.09" y="813" width="5.91" height="5" fill="#fff"/>
<rect x="1394" y="813" width="6.87" height="5" fill="#fff"/>
<rect x="1403.59" y="813" width="6.41" height="5" fill="#fff"/>
<rect x="1482" y="813" width="6.66" height="5" fill="#fff"/>
<rect x="1491.39" y="813" width="6.61" height="5" fill="#fff"/>
<rect x="1575" y="813" width="6.30" height="5" fill="#fff"/>
<rect x="1584.03" y="813" width="5.97" height="5" fill="#fff"/>
<rect x="1677" y="813" width="6.27" height="5" fill="#fff"/>
<rect x="1686.00" y="813" width="6.00" height="5" fill="#fff"/>
<rect x="516" y="849" width="6.52" height="5" fill="#fff"/>
<rect x="525.24" y="849" width="6.76" height="5" fill="#fff"/>
<rect x="550" y="849" width="6.21" height="5" fill="#fff"/>
<rect x="558.94" y="849" width="6.06" height="5" fill="#fff"/>
<rect x="1575" y="849" width="6.30" height="5" fill="#fff"/>
<rect x="1584.03" y="849" width="5.97" height="5" fill="#fff"/>
<rect x="219" y="888" width="6.63" height="4" fill="#fff"/>
<rect x="228.35" y="888" width="6.65" height="4" fill="#fff"/>
<rect x="549" y="923" width="6.70" height="5" fill="#fff"/>
<rect x="559.85" y="923" width="5.15" height="5" fill="#fff"/>
<rect x="581" y="962" width="6.29" height="4" fill="#fff"/>
<rect x="589.79" y="962" width="6.21" height="4" fill="#fff"/>
<rect x="482" y="1034" width="6.31" height="5" fill="#fff"/>
<rect x="492.46" y="1034" width="5.54" height="5" fill="#fff"/>
<rect x="499" y="1034" width="6.16" height="5" fill="#fff"/>
<rect x="509.31" y="1034" width="5.69" height="5" fill="#fff"/>
<rect x="532" y="1034" width="6.85" height="5" fill="#fff"/>
<rect x="543.00" y="1034" width="5.00" height="5" fill="#fff"/>
<rect x="1615" y="1034" width="6.63" height="5" fill="#fff"/>
<rect x="1625.90" y="1034" width="5.10" height="5" fill="#fff"/>
<rect x="581" y="1073" width="6.29" height="4" fill="#fff"/>
<rect x="589.79" y="1073" width="6.21" height="4" fill="#fff"/>
<rect x="420" y="1118" width="4.73" height="3" fill="#fff"/>
<rect x="426.57" y="1118" width="4.43" height="3" fill="#fff"/>
<rect x="590" y="1107" width="6.08" height="4" fill="#fff"/>
<rect x="598.62" y="1107" width="6.38" height="4" fill="#fff"/>
<rect x="713" y="1107" width="5.79" height="4" fill="#fff"/>
<rect x="721.34" y="1107" width="5.66" height="4" fill="#fff"/>
<rect x="829" y="1109" width="6.67" height="5" fill="#fff"/>
<rect x="838.40" y="1109" width="6.60" height="5" fill="#fff"/>
</svg>
</body></html>
